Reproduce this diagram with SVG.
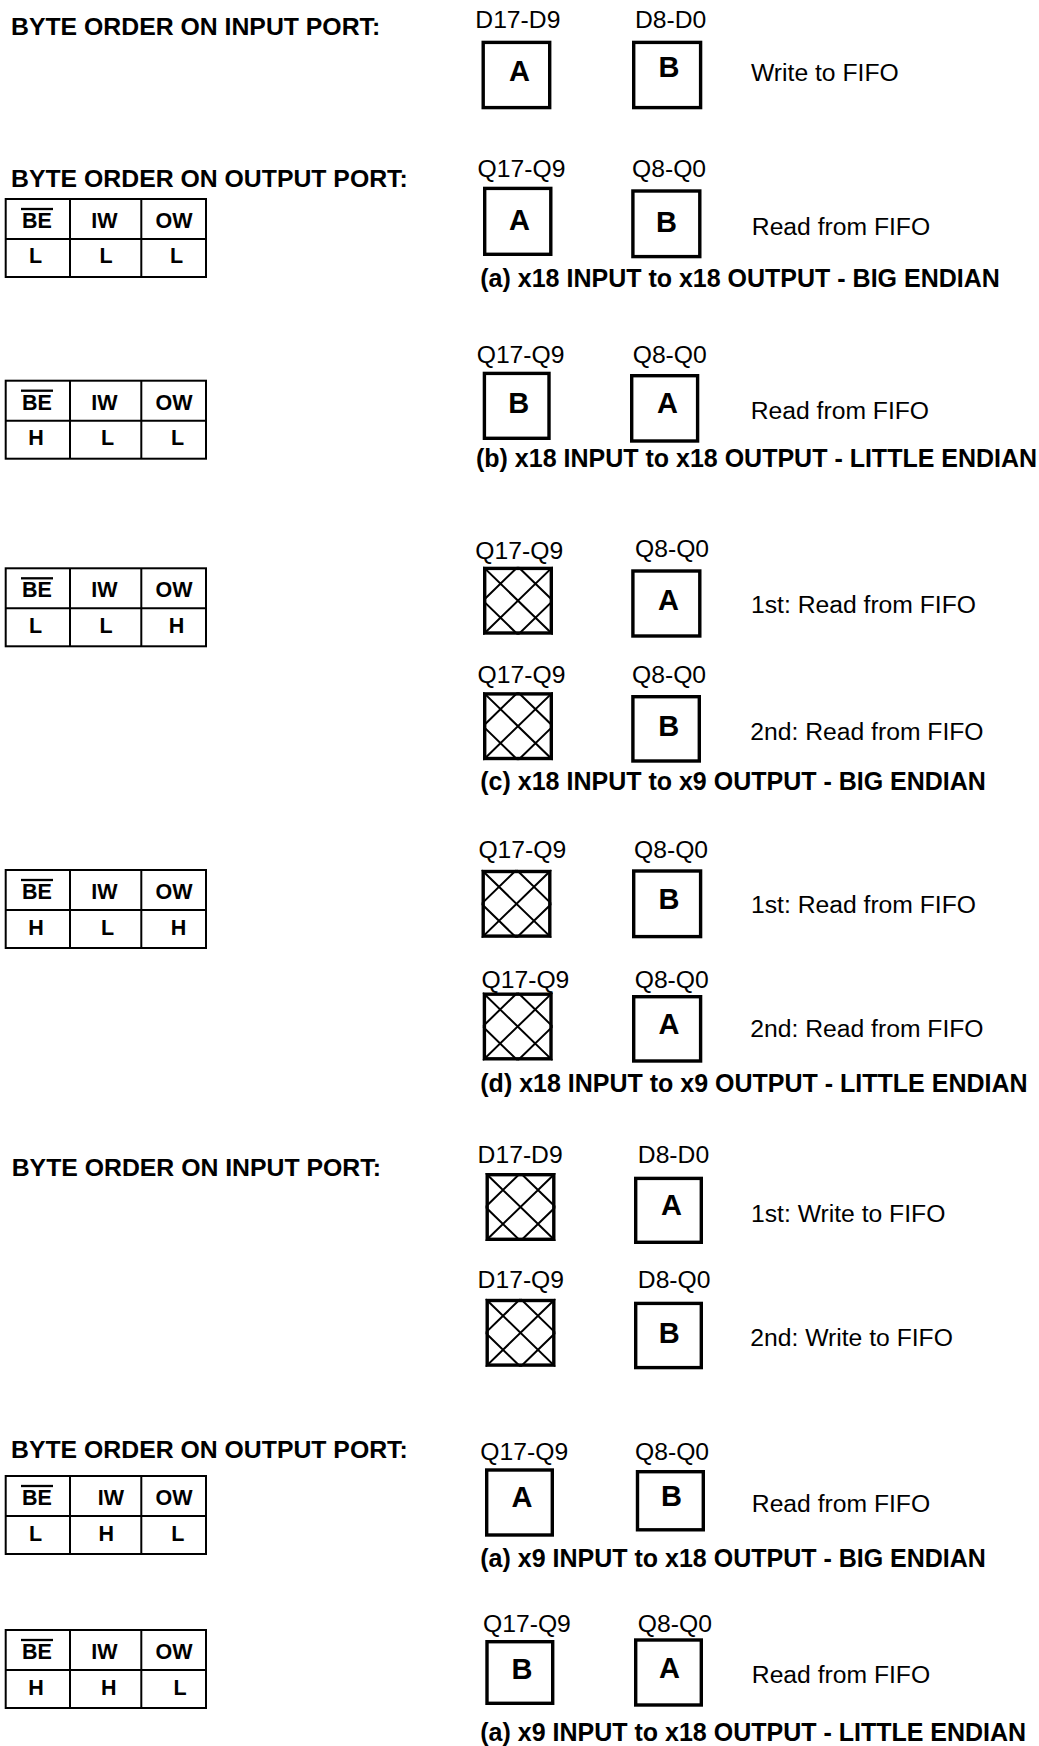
<svg xmlns="http://www.w3.org/2000/svg" xmlns:xlink="http://www.w3.org/1999/xlink" width="1039" height="1746" viewBox="0 0 1039 1746">
<style>
text { font-family: "Liberation Sans", Arial, Helvetica, sans-serif; fill: #000; }
.h { font-weight: bold; font-size: 24.8px; }
.cap { font-weight: bold; font-size: 25px; }
.lbl { font-size: 24.7px; }
.big { font-weight: bold; font-size: 29px; text-anchor: middle; }
.tb { font-weight: bold; font-size: 21.5px; text-anchor: middle; }
.box { fill: #fff; stroke: #000; stroke-width: 3.4; }
.hbox { fill: none; stroke: #000; stroke-width: 3.4; }
.tbl { fill: none; stroke: #000; stroke-width: 2; }
.ovl { stroke: #000; stroke-width: 2.3; }
.hl { stroke: #000; stroke-width: 2; fill: none; }
</style>
<defs>
<clipPath id="hc"><rect x="0" y="0" width="70" height="68"/></clipPath>
<g id="hatch">
<g clip-path="url(#hc)">
<path class="hl" d="M0,0 L70,68 M70,0 L0,68 M35,0 L0,34 M35,0 L70,34 M0,34 L35,68 M70,34 L35,68"/>
</g>
<rect class="hbox" x="1.7" y="1.7" width="66.6" height="64.6"/>
</g>
<g id="tbl">
<rect class="tbl" x="5.7" y="0" width="200.3" height="78"/>
<line class="tbl" x1="5.7" y1="40" x2="206" y2="40"/>
<line class="tbl" x1="70" y1="0" x2="70" y2="78"/>
<line class="tbl" x1="141.3" y1="0" x2="141.3" y2="78"/>
<line class="ovl" x1="21" y1="10" x2="53" y2="10"/>
<text class="tb" x="37" y="29">BE</text>
<text class="tb" x="174" y="29">OW</text>
</g>
</defs>

<!-- Section (a): x18 to x18 big endian -->
<g id="title-input-1"><text class="h" x="11" y="35">BYTE ORDER ON INPUT PORT:</text></g>
<g id="write-a">
<text class="lbl" x="475.3" y="28.3">D17-D9</text>
<text class="lbl" x="635" y="28.3">D8-D0</text>
<rect class="box" x="483.2" y="42.4" width="66.5" height="65.2"/>
<text class="big" x="519.6" y="80.7">A</text>
<rect class="box" x="633.7" y="42.4" width="66.9" height="65.2"/>
<text class="big" x="669" y="77.3">B</text>
<text class="lbl" x="751" y="81">Write to FIFO</text>
</g>
<g id="title-output-1"><text class="h" x="11" y="187">BYTE ORDER ON OUTPUT PORT:</text></g>
<g id="table-a" transform="translate(0,199)">
<use xlink:href="#tbl"/>
<text class="tb" x="104.5" y="29">IW</text>
<text class="tb" x="35.5" y="64">L</text>
<text class="tb" x="106" y="64">L</text>
<text class="tb" x="176.5" y="64">L</text>
</g>
<g id="read-a">
<text class="lbl" x="477.6" y="176.7">Q17-Q9</text>
<text class="lbl" x="632" y="176.7">Q8-Q0</text>
<rect class="box" x="484.7" y="188.4" width="66.1" height="65.9"/>
<text class="big" x="519.6" y="230">A</text>
<rect class="box" x="632.9" y="191" width="66.9" height="65.6"/>
<text class="big" x="666.6" y="231.7">B</text>
<text class="lbl" x="751.8" y="235">Read from FIFO</text>
<text class="cap" x="480.3" y="286.7">(a) x18 INPUT to x18 OUTPUT - BIG ENDIAN</text>
</g>

<!-- Section (b) -->
<g id="table-b" transform="translate(0,380.7)">
<use xlink:href="#tbl"/>
<text class="tb" x="104.5" y="29">IW</text>
<text class="tb" x="36" y="64.5">H</text>
<text class="tb" x="107.5" y="64.5">L</text>
<text class="tb" x="177.5" y="64.5">L</text>
</g>
<g id="read-b">
<text class="lbl" x="476.7" y="363.3">Q17-Q9</text>
<text class="lbl" x="632.7" y="363.3">Q8-Q0</text>
<rect class="box" x="484.4" y="373.4" width="64.6" height="64.9"/>
<text class="big" x="518.8" y="413.3">B</text>
<rect class="box" x="631.7" y="375.7" width="65.9" height="65.3"/>
<text class="big" x="667.5" y="413.3">A</text>
<text class="lbl" x="750.7" y="419.3">Read from FIFO</text>
<text class="cap" x="476" y="467.3">(b) x18 INPUT to x18 OUTPUT - LITTLE ENDIAN</text>
</g>

<!-- Section (c) -->
<g id="table-c" transform="translate(0,568.3)">
<use xlink:href="#tbl"/>
<text class="tb" x="104.5" y="29">IW</text>
<text class="tb" x="35.5" y="64.4">L</text>
<text class="tb" x="106" y="64.4">L</text>
<text class="tb" x="176.5" y="64.4">H</text>
</g>
<g id="read-c1">
<text class="lbl" x="475.3" y="559.3">Q17-Q9</text>
<text class="lbl" x="635" y="557.3">Q8-Q0</text>
<use xlink:href="#hatch" transform="translate(483,566.7)"/>
<rect class="box" x="632.9" y="571" width="66.9" height="65"/>
<text class="big" x="668.4" y="610">A</text>
<text class="lbl" x="751" y="613.3">1st: Read from FIFO</text>
</g>
<g id="read-c2">
<text class="lbl" x="477.6" y="683.3">Q17-Q9</text>
<text class="lbl" x="632" y="683.3">Q8-Q0</text>
<use xlink:href="#hatch" transform="translate(483,692.2)"/>
<rect class="box" x="632.9" y="696.7" width="66.4" height="64.3"/>
<text class="big" x="668.8" y="736">B</text>
<text class="lbl" x="750.3" y="740">2nd: Read from FIFO</text>
<text class="cap" x="480.3" y="790">(c) x18 INPUT to x9 OUTPUT - BIG ENDIAN</text>
</g>

<!-- Section (d) -->
<g id="table-d" transform="translate(0,870)">
<use xlink:href="#tbl"/>
<text class="tb" x="104.5" y="29">IW</text>
<text class="tb" x="36" y="65">H</text>
<text class="tb" x="107.5" y="65">L</text>
<text class="tb" x="178.5" y="65">H</text>
</g>
<g id="read-d1">
<text class="lbl" x="478.4" y="858.3">Q17-Q9</text>
<text class="lbl" x="634" y="858.3">Q8-Q0</text>
<use xlink:href="#hatch" transform="translate(481.5,869.8)"/>
<rect class="box" x="633.7" y="871" width="66.9" height="65.6"/>
<text class="big" x="669" y="909">B</text>
<text class="lbl" x="751" y="912.7">1st: Read from FIFO</text>
</g>
<g id="read-d2">
<text class="lbl" x="481.5" y="988.3">Q17-Q9</text>
<text class="lbl" x="634.7" y="988.3">Q8-Q0</text>
<use xlink:href="#hatch" transform="translate(482.7,992.5)"/>
<rect class="box" x="633.7" y="996.7" width="66.9" height="64.3"/>
<text class="big" x="669" y="1034">A</text>
<text class="lbl" x="750.3" y="1037.3">2nd: Read from FIFO</text>
<text class="cap" x="480.3" y="1092">(d) x18 INPUT to x9 OUTPUT - LITTLE ENDIAN</text>
</g>

<!-- Section (e): x9 input -->
<g id="title-input-2"><text class="h" x="11.7" y="1176">BYTE ORDER ON INPUT PORT:</text></g>
<g id="write-e1">
<text class="lbl" x="477.6" y="1163.3">D17-D9</text>
<text class="lbl" x="637.8" y="1163.3">D8-D0</text>
<use xlink:href="#hatch" transform="translate(485.5,1173)"/>
<rect class="box" x="635.7" y="1178.4" width="65.6" height="63.9"/>
<text class="big" x="671.4" y="1215">A</text>
<text class="lbl" x="751" y="1221.7">1st: Write to FIFO</text>
</g>
<g id="write-e2">
<text class="lbl" x="477.6" y="1288.3">D17-Q9</text>
<text class="lbl" x="637.8" y="1288.3">D8-Q0</text>
<use xlink:href="#hatch" transform="translate(485.5,1298.8)"/>
<rect class="box" x="635.7" y="1303.4" width="65.6" height="64.2"/>
<text class="big" x="669.2" y="1342.7">B</text>
<text class="lbl" x="750.3" y="1346">2nd: Write to FIFO</text>
</g>

<!-- Section (f): x9 to x18 -->
<g id="title-output-2"><text class="h" x="11" y="1458.3">BYTE ORDER ON OUTPUT PORT:</text></g>
<g id="table-f1" transform="translate(0,1476)">
<use xlink:href="#tbl"/>
<text class="tb" x="110.8" y="29">IW</text>
<text class="tb" x="35.5" y="64.7">L</text>
<text class="tb" x="106.2" y="64.7">H</text>
<text class="tb" x="177.7" y="64.7">L</text>
</g>
<g id="read-f1">
<text class="lbl" x="480.3" y="1460">Q17-Q9</text>
<text class="lbl" x="635" y="1460">Q8-Q0</text>
<rect class="box" x="486.7" y="1470" width="65.6" height="65"/>
<text class="big" x="522" y="1507.3">A</text>
<rect class="box" x="637.5" y="1471.7" width="65.8" height="58.1"/>
<text class="big" x="671.6" y="1506">B</text>
<text class="lbl" x="751.8" y="1511.7">Read from FIFO</text>
<text class="cap" x="480.3" y="1566.7">(a) x9 INPUT to x18 OUTPUT - BIG ENDIAN</text>
</g>
<g id="table-f2" transform="translate(0,1630)">
<use xlink:href="#tbl"/>
<text class="tb" x="104.5" y="29.3">IW</text>
<text class="tb" x="36" y="65">H</text>
<text class="tb" x="108.8" y="65">H</text>
<text class="tb" x="180" y="65">L</text>
</g>
<g id="read-f2">
<text class="lbl" x="483" y="1631.7">Q17-Q9</text>
<text class="lbl" x="637.8" y="1631.7">Q8-Q0</text>
<rect class="box" x="487" y="1641.7" width="65.7" height="61.6"/>
<text class="big" x="522" y="1679.3">B</text>
<rect class="box" x="635.7" y="1640" width="65.6" height="65"/>
<text class="big" x="669.5" y="1678.3">A</text>
<text class="lbl" x="751.8" y="1683.3">Read from FIFO</text>
<text class="cap" x="480.3" y="1740.7">(a) x9 INPUT to x18 OUTPUT - LITTLE ENDIAN</text>
</g>
<g id="connectors"/>
</svg>
